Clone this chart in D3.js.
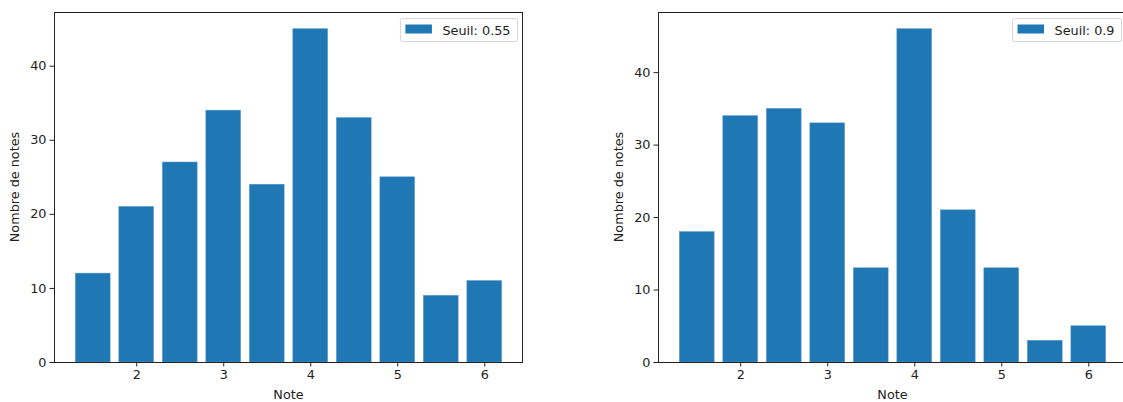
<!DOCTYPE html>
<html>
<head>
<meta charset="utf-8">
<script src="https://cdn.jsdelivr.net/npm/d3@7"></script>
<style>
  html, body { margin: 0; padding: 0; background: #fff; }
  svg { display: block; font-family: "DejaVu Sans", sans-serif; }
</style>
</head>
<body>
<svg id="fig" width="1123" height="402"></svg>
<script>
// Note values (bar centres) shared by both panels
const notes = [1.5, 2, 2.5, 3, 3.5, 4, 4.5, 5, 5.5, 6];
// Counts of notes per value for each threshold
const countsSeuil055 = [12, 21, 27, 34, 24, 45, 33, 25, 9, 11];
const countsSeuil09 = [18, 34, 35, 33, 13, 46, 21, 13, 3, 5];
const legendLabels = ["Seuil: 0.55", "Seuil: 0.9"];
const xTicks = [2, 3, 4, 5, 6];
const yTicks = [0, 10, 20, 30, 40];

const barWidth = 0.4;
const color = "#1f77b4";
const fontSize = 12.8;

const svg = d3.select("#fig");

function panel(left, counts, label) {
  const top = 12, bottom = 362, width = 469;
  const right = left + width;

  const xMin = d3.min(notes) - barWidth / 2, xMax = d3.max(notes) + barWidth / 2;
  const pad = (xMax - xMin) * 0.05;
  const x = d3.scaleLinear().domain([xMin - pad, xMax + pad]).range([left, right]);
  const y = d3.scaleLinear().domain([0, d3.max(counts) * 1.05]).range([bottom, top]);

  const g = svg.append("g");

  // bars
  g.selectAll("rect.bar")
    .data(notes.map((n, i) => ({ n, v: counts[i] })))
    .join("rect")
    .attr("class", "bar")
    .attr("x", d => x(d.n - barWidth / 2))
    .attr("width", d => x(d.n + barWidth / 2) - x(d.n - barWidth / 2))
    .attr("y", d => y(d.v))
    .attr("height", d => y(0) - y(d.v))
    .attr("fill", color)
    .attr("stroke", "#5b9bcf")
    .attr("stroke-width", 0.5);

  // axes
  const xAxis = g.append("g")
    .attr("transform", `translate(0,${bottom})`)
    .call(d3.axisBottom(x).tickValues(xTicks).tickFormat(d3.format("d")).tickSize(4.5).tickPadding(3));
  const yAxis = g.append("g")
    .attr("transform", `translate(${left},0)`)
    .call(d3.axisLeft(y).tickValues(yTicks).tickFormat(d3.format("d")).tickSize(4.5).tickPadding(3));
  [xAxis, yAxis].forEach(a => {
    a.select(".domain").remove();
    a.selectAll("line").attr("stroke", "#222").attr("stroke-width", 1);
    a.selectAll("text").attr("font-size", fontSize).attr("fill", "#222")
      .attr("font-family", "DejaVu Sans, sans-serif");
  });

  // frame
  g.append("rect")
    .attr("x", left + 0.5).attr("y", top + 0.5)
    .attr("width", width - 1).attr("height", bottom - top)
    .attr("fill", "none").attr("stroke", "#222").attr("stroke-width", 1);

  // axis titles
  g.append("text")
    .attr("x", (left + right) / 2).attr("y", 399)
    .attr("text-anchor", "middle").attr("font-size", fontSize).attr("fill", "#222")
    .text("Note");
  g.append("text")
    .attr("transform", `translate(${left - 35},${(top + bottom) / 2}) rotate(-90)`)
    .attr("text-anchor", "middle").attr("font-size", fontSize).attr("fill", "#222")
    .text("Nombre de notes");

  // legend, sized to its label
  const lg = g.append("g");
  const box = lg.append("rect");
  const patch = lg.append("rect");
  const txt = lg.append("text")
    .attr("font-size", fontSize).attr("fill", "#222")
    .text(label);
  const textW = txt.node().getComputedTextLength();
  const boxW = textW + 49;
  const bx = right - 6 - boxW;
  box.attr("x", bx + 0.5).attr("y", 18.5).attr("width", boxW).attr("height", 23)
    .attr("rx", 2).attr("fill", "#fff").attr("fill-opacity", 0.8)
    .attr("stroke", "#d6d6d6").attr("stroke-width", 1);
  patch.attr("x", bx + 5.5).attr("y", 24.5).attr("width", 26.5).attr("height", 9)
    .attr("fill", color);
  txt.attr("x", bx + 42.5).attr("y", 34.5);
}

panel(54, countsSeuil055, legendLabels[0]);
panel(658, countsSeuil09, legendLabels[1]);
</script>
</body>
</html>
